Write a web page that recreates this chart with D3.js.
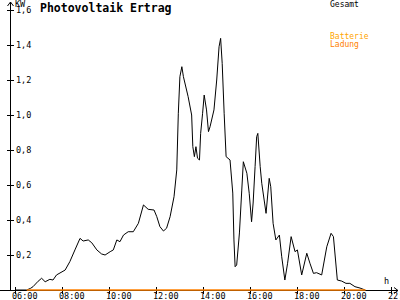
<!DOCTYPE html>
<html>
<head>
<meta charset="utf-8">
<script src="https://cdn.jsdelivr.net/npm/d3@7"></script>
<style>
  body { margin: 0; background: #fff; }
  text { font-family: "DejaVu Sans Mono", monospace; }
</style>
</head>
<body>
<div id="chart"></div>
<script>
// Gesamt (kW) over the day
const times = ["06:00","06:30","06:40","06:46","06:59","07:08","07:17","07:29","07:37","07:46","08:08","08:20","08:33","08:46","08:54","09:07","09:16","09:29","09:41","09:50","10:03","10:11","10:20","10:28","10:37","10:49","11:02","11:15","11:28","11:40","11:55","12:02","12:10","12:19","12:27","12:36","12:46","12:53","12:57","13:01","13:06","13:10","13:22","13:31","13:34","13:38","13:42","13:46","13:51","13:54","13:59","14:03","14:09","14:14","14:18","14:28","14:35","14:41","14:45","14:49","14:54","14:59","15:09","15:16","15:19","15:22","15:26","15:33","15:39","15:43","15:52","15:58","16:04","16:08","16:13","16:17","16:20","16:26","16:30","16:41","16:49","16:53","16:59","17:06","17:15","17:21","17:29","17:36","17:45","17:55","18:01","18:12","18:25","18:33","18:42","18:50","19:03","19:16","19:27","19:33","19:43","19:54","20:05","20:15","20:28","20:41","20:54"];
const gesamt = [0,0,0.01,0.019,0.05,0.067,0.047,0.061,0.057,0.086,0.114,0.162,0.229,0.295,0.28,0.286,0.27,0.229,0.206,0.2,0.219,0.229,0.286,0.276,0.314,0.333,0.333,0.381,0.486,0.461,0.457,0.419,0.362,0.337,0.353,0.419,0.533,0.686,1.01,1.219,1.276,1.219,1.105,1.0,0.819,0.762,0.819,0.753,0.743,0.895,1.01,1.114,1.029,0.905,0.933,1.029,1.2,1.39,1.438,1.295,1.01,0.762,0.743,0.554,0.286,0.133,0.143,0.326,0.571,0.733,0.667,0.553,0.39,0.497,0.705,0.876,0.895,0.705,0.61,0.438,0.638,0.59,0.381,0.286,0.314,0.19,0.057,0.153,0.305,0.219,0.229,0.086,0.21,0.153,0.095,0.099,0.086,0.247,0.324,0.305,0.057,0.051,0.038,0.038,0.019,0.011,0];

// Batterie Ladung (kW)
const ladungTimes = ["06:30","20:55"];
const ladung = [0,0];

const yTicks = [0.2,0.4,0.6,0.8,1.0,1.2,1.4,1.6];
const xTicks = ["06:00","08:00","10:00","12:00","14:00","16:00","18:00","20:00","22:"];

const width = 400, height = 300;
const toH = s => { const p = s.split(":"); return +p[0] + (p[1] ? +p[1] : 0) / 60; };
const fmt = v => d3.format(".1f")(v).replace(".", ",");

const x = d3.scaleLinear().domain([6, 22]).range([15, 391]);
const y = d3.scaleLinear().domain([0, 1.6]).range([290, 10]);

const svg = d3.select("#chart").append("svg")
  .attr("width", width).attr("height", height);

// axes
const ax = svg.append("g").attr("stroke", "#000").attr("shape-rendering", "crispEdges");
ax.append("line").attr("x1", 10.5).attr("x2", 10.5).attr("y1", 291).attr("y2", 2);
ax.append("line").attr("x1", 0).attr("x2", 398).attr("y1", 290.5).attr("y2", 290.5);
svg.append("path").attr("fill", "none").attr("stroke", "#000")
  .attr("d", "M7.5,6 L10.5,2 L13.5,6");
svg.append("path").attr("fill", "none").attr("stroke", "#000")
  .attr("d", "M394,287.5 L398,290.5 L394,293.5");

ax.selectAll(".yt").data(yTicks).enter().append("line")
  .attr("x1", 7).attr("x2", 14)
  .attr("y1", d => Math.round(y(d)) + 0.5).attr("y2", d => Math.round(y(d)) + 0.5);
svg.selectAll(".yl").data(yTicks).enter().append("text")
  .attr("x", 16).attr("y", d => y(d) + 3)
  .attr("font-size", "8.5px").text(fmt);
svg.append("text").attr("x", 15).attr("y", 7).attr("font-size", "8.5px").text("KW");

ax.selectAll(".xt").data(xTicks).enter().append("line")
  .attr("x1", d => Math.round(x(toH(d))) + 0.5).attr("x2", d => Math.round(x(toH(d))) + 0.5)
  .attr("y1", 287).attr("y2", 294);
svg.selectAll(".xl").data(xTicks).enter().append("text")
  .attr("x", d => x(toH(d)) - 3).attr("y", 299)
  .attr("font-size", "8.5px").text(d => d);
svg.append("text").attr("x", 384).attr("y", 284).attr("font-size", "8.5px").text("h");

// series
const line = d3.line().x(d => x(d[0])).y(d => y(d[1]));
svg.append("path")
  .datum(times.map((t, i) => [toH(t), gesamt[i]]))
  .attr("fill", "none").attr("stroke", "#000").attr("stroke-width", 1)
  .attr("d", line);
svg.append("path")
  .datum(ladungTimes.map((t, i) => [toH(t), ladung[i]]))
  .attr("fill", "none").attr("stroke", "#ff8000").attr("stroke-width", 1.5)
  .attr("d", line);

// title & legend
svg.append("text").attr("x", 40).attr("y", 12)
  .attr("font-size", "11.5px").attr("font-weight", "bold").text("Photovoltaik Ertrag");
svg.append("text").attr("x", 330).attr("y", 7).attr("font-size", "8px").text("Gesamt");
svg.append("text").attr("x", 330).attr("y", 39).attr("font-size", "8px").attr("fill", "#ffa500").text("Batterie");
svg.append("text").attr("x", 330).attr("y", 47).attr("font-size", "8px").attr("fill", "#ff8000").text("Ladung");
</script>
</body>
</html>
